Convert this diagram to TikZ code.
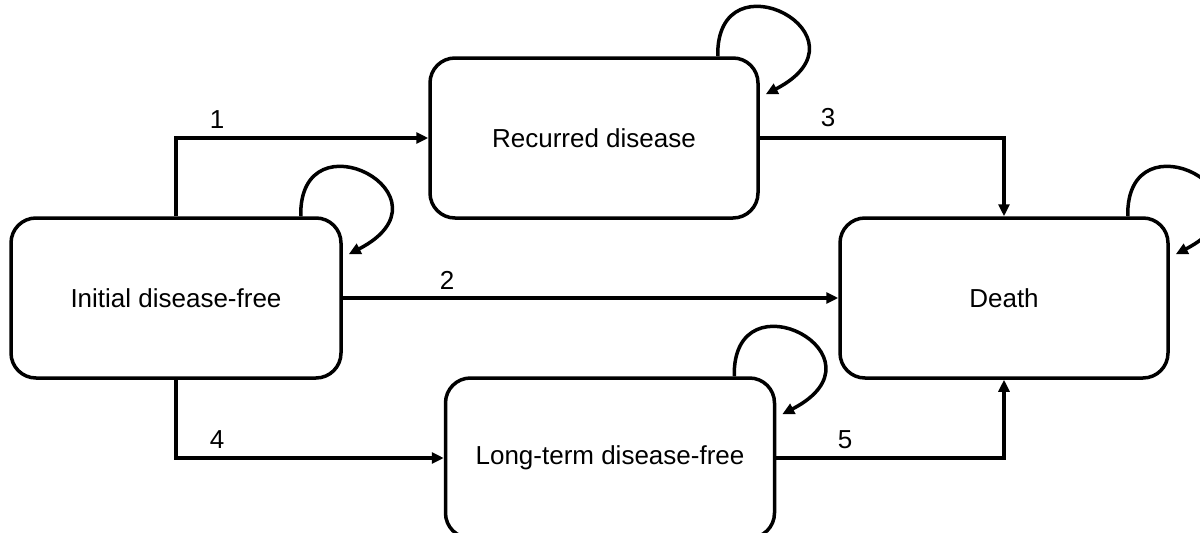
\documentclass[tikz,border=0pt]{standalone}
\usepackage{fontspec}
\setmainfont{Liberation Sans}
\usetikzlibrary{arrows.meta,calc}
\begin{document}
\begin{tikzpicture}[x=1pt,y=-1pt,
  state/.style={draw=black, line width=3.5pt, rounded corners=25pt, fill=white,
    minimum width=330pt, minimum height=160pt, inner sep=0pt,
    font=\fontsize{26}{30}\selectfont},
  conn/.style={line width=3.5pt, -{Triangle[length=12pt,width=11pt]}},
  lab/.style={font=\fontsize{26}{30}\selectfont, inner sep=0pt}]
\useasboundingbox (0,0) rectangle (1200,533);
\node[state] (init) at (176,298) {Initial disease-free};
\node[state, minimum width=328pt] (rec) at (594,138) {Recurred disease};
\node[state, minimum width=328pt] (death) at (1004,298) {Death};
\node[state, minimum width=329pt] (lt) at (610,458) {Long-term disease-free};
\draw[conn] (init.north) |- (rec.west);
\draw[conn] (init.east) -- (death.west);
\draw[conn] (rec.east) -| (death.north);
\draw[conn] (init.south) |- (lt.west);
\draw[conn] (lt.east) -| (death.south);
\node[lab] (l1) at (217,120) {1};
\node[lab] (l2) at (447,280) {2};
\node[lab] (l3) at (828,118) {3};
\node[lab] (l4) at (217,440) {4};
\node[lab] (l5) at (845,440) {5};
\foreach \n in {init,rec,death,lt}{
  \draw[conn] ($(\n.north east)+(-42,0)$) .. controls ($(\n.north east)+(-44,-105)$) and ($(\n.north east)+(118,-20)$) .. ($(\n.north east)+(6,38)$);
}
\end{tikzpicture}
\end{document}
